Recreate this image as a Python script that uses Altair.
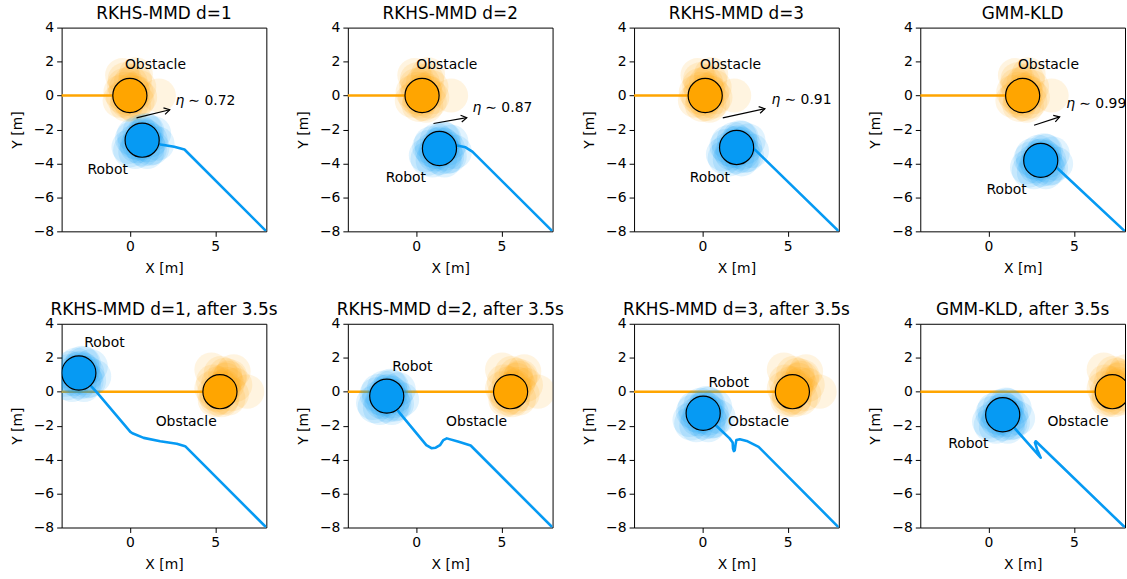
import math
import altair as alt
import pandas as pd

# ---- panel titles and axes -------------------------------------------------
TITLES = [
    "RKHS-MMD d=1", "RKHS-MMD d=2", "RKHS-MMD d=3", "GMM-KLD",
    "RKHS-MMD d=1, after 3.5s", "RKHS-MMD d=2, after 3.5s",
    "RKHS-MMD d=3, after 3.5s", "GMM-KLD, after 3.5s",
]
X_DOMAIN = [-4, 8]
Y_DOMAIN = [-8, 4]
X_TICKS = [0, 5]
Y_TICKS = [-8, -6, -4, -2, 0, 2, 4]

# ---- agent positions (metres) ---------------------------------------------
OBSTACLE_X = [0.0, 0.35, 0.17, 2.0, 5.28, 5.54, 5.28, 7.25]
OBSTACLE_Y = [0.0, 0.0, 0.0, 0.0, 0.0, 0.0, 0.0, 0.0]
ROBOT_X = [0.72, 1.37, 2.01, 3.06, -2.99, -1.72, 0.05, 0.83]
ROBOT_Y = [-2.63, -3.12, -3.06, -3.82, 1.10, -0.26, -1.27, -1.36]
BODY_RADIUS = 1.0

# obstacle travels along y = 0 from the left
OBSTACLE_TRACK_START_X = -4.5

# ---- robot trajectories -----------------------------------------------------
ROBOT_PATH_X = [
    [8.0, 3.2, 2.6, 1.8, 0.72],
    [8.0, 3.3, 2.9, 2.4, 1.37],
    [8.0, 3.1, 2.01],
    [8.0, 3.9, 3.06],
    [8.0, 3.24, 2.75, 1.78, 0.81, 0.15, 0.03, -1.92, -2.99],
    [8.0, 3.2, 2.5, 1.8, 1.6, 1.4, 1.15, 0.9, 0.6, -1.0, -1.72],
    [8.0, 3.3, 2.6, 2.2, 2.0, 1.95, 1.9, 1.85, 1.8, 1.78, 1.6, 0.96, 0.05],
    [8.0, 2.77, 2.72, 2.85, 3.06, 0.83],
]
ROBOT_PATH_Y = [
    [-8.0, -3.18, -3.02, -2.88, -2.63],
    [-8.0, -3.3, -3.05, -2.95, -3.12],
    [-8.0, -3.2, -3.06],
    [-8.0, -4.15, -3.82],
    [-8.0, -3.21, -3.07, -2.92, -2.72, -2.45, -2.37, -0.06, 1.10],
    [-8.0, -3.17, -2.95, -2.75, -2.85, -3.15, -3.3, -3.33, -3.15, -1.2, -0.26],
    [-8.0, -3.25, -2.9, -2.8, -2.85, -3.1, -3.45, -3.5, -3.35, -3.0, -2.75, -2.14, -1.27],
    [-8.0, -2.92, -3.0, -3.4, -3.89, -1.36],
]

# ---- sampled uncertainty (offsets from the mean position) -------------------
OBSTACLE_SAMPLE_DX_TOP = [-0.45, 0.35, 0.55, -0.55, 0.1, -0.2, 0.45, 1.7, -0.35, 0.2, 0.0, -0.1,
                          0.3, -0.4, 0.15, -0.25, 0.6, -0.6, 0.25, 0.05, -0.15, 0.4, -0.3, 0.1]
OBSTACLE_SAMPLE_DY_TOP = [1.2, 1.25, 0.5, 0.2, -0.5, -0.55, -0.35, 0.0, 0.6, 0.2, 0.05, -0.2,
                          0.9, -0.1, 0.35, 0.4, -0.1, -0.3, -0.6, 0.75, -0.35, 0.15, 0.95, -0.05]
OBSTACLE_SAMPLE_DX_BOTTOM = [-0.5, 0.8, 0.9, -0.5, 0.1, -0.3, 0.5, 1.6, 0.35, 0.2, 0.0, -0.2,
                             0.6, -0.35, 0.3, -0.1, 0.7, 0.45, -0.4, 0.15, 0.55, -0.2, 0.25, 0.05]
OBSTACLE_SAMPLE_DY_BOTTOM = [1.3, 1.2, 0.4, 0.2, -0.5, -0.5, -0.4, 0.0, 0.7, 0.2, 0.05, -0.2,
                             0.9, -0.1, 1.0, 0.5, -0.15, 0.45, 0.6, -0.35, 0.8, -0.4, 0.3, 1.1]
ROBOT_SAMPLE_DX = [-0.8, -0.5, 0.2, 0.7, 0.9, 0.3, -0.4, 0.0, 0.5, -0.2, -0.6, 0.6,
                   0.1, -0.3, 0.35, -0.15, 0.05, -0.45, 0.25, 0.45, -0.7, 0.15, -0.05, 0.3]
ROBOT_SAMPLE_DY = [-0.4, 0.3, 0.6, 0.4, -0.2, -0.7, -0.7, 0.1, 0.0, -0.2, 0.1, -0.45,
                   0.3, -0.35, -0.3, 0.5, -0.55, -0.1, 0.2, -0.5, -0.6, 0.05, 0.25, 0.55]

# ---- annotations ------------------------------------------------------------
OBSTACLE_LABEL_X = [1.5, 1.8, 1.66, 3.51, 3.3, 3.55, 3.3, 5.24]
OBSTACLE_LABEL_Y = [1.8, 1.8, 1.8, 1.8, -1.79, -1.79, -1.79, -1.79]
ROBOT_LABEL_X = [-1.3, -0.6, 0.44, 1.06, -1.49, -0.22, 1.55, -1.18]
ROBOT_LABEL_Y = [-4.38, -4.83, -4.83, -5.55, 2.87, 1.47, 0.52, -3.11]

ETA_VALUES = ["0.72", "0.87", "0.91", "0.99"]
ETA_X = [2.67, 3.3, 4.06, 4.56]
ETA_Y = [-0.33, -0.74, -0.29, -0.52]
ARROW_X0 = [0.39, 1.02, 1.2, 2.67]
ARROW_Y0 = [-1.32, -1.65, -1.32, -1.75]
ARROW_X1 = [2.34, 2.97, 3.67, 4.17]
ARROW_Y1 = [-0.84, -1.3, -0.78, -1.26]

# ---- styling ----------------------------------------------------------------
ORANGE = "#FFA500"
BLUE = "#069AF3"
FONT = "DejaVu Sans"
PLOT_W = 206
PLOT_H = 205
PX_PER_M_X = PLOT_W / (X_DOMAIN[1] - X_DOMAIN[0])
PX_PER_M_Y = PLOT_H / (Y_DOMAIN[1] - Y_DOMAIN[0])
BODY_SIZE = (2 * BODY_RADIUS * PX_PER_M_X) ** 2
CLOUD_OPACITY = 0.12
ARROW_HEAD = "M -1 -0.6 L 0 0 L -1 0.6"


def make_panel(i):
    row = i // 4
    xs = alt.Scale(domain=X_DOMAIN, nice=False, zero=False)
    ys = alt.Scale(domain=Y_DOMAIN, nice=False, zero=False)
    x = alt.X("x:Q", scale=xs, axis=alt.Axis(values=X_TICKS, title="X [m]"))
    y = alt.Y("y:Q", scale=ys, axis=alt.Axis(values=Y_TICKS, title="Y [m]"))

    track = pd.DataFrame({"x": [OBSTACLE_TRACK_START_X, OBSTACLE_X[i]],
                          "y": [OBSTACLE_Y[i], OBSTACLE_Y[i]]})
    path = pd.DataFrame({"x": ROBOT_PATH_X[i], "y": ROBOT_PATH_Y[i],
                         "k": list(range(len(ROBOT_PATH_X[i])))})

    if row == 0:
        odx, ody = OBSTACLE_SAMPLE_DX_TOP, OBSTACLE_SAMPLE_DY_TOP
    else:
        odx, ody = OBSTACLE_SAMPLE_DX_BOTTOM, OBSTACLE_SAMPLE_DY_BOTTOM
    obs_cloud = pd.DataFrame({"x": [OBSTACLE_X[i] + d for d in odx],
                              "y": [OBSTACLE_Y[i] + d for d in ody]})
    rob_cloud = pd.DataFrame({"x": [ROBOT_X[i] + d for d in ROBOT_SAMPLE_DX],
                              "y": [ROBOT_Y[i] + d for d in ROBOT_SAMPLE_DY]})
    bodies = pd.DataFrame({"x": [OBSTACLE_X[i], ROBOT_X[i]],
                           "y": [OBSTACLE_Y[i], ROBOT_Y[i]],
                           "who": ["obstacle", "robot"]})
    labels = pd.DataFrame({"x": [OBSTACLE_LABEL_X[i], ROBOT_LABEL_X[i]],
                           "y": [OBSTACLE_LABEL_Y[i], ROBOT_LABEL_Y[i]],
                           "t": ["Obstacle", "Robot"]})

    layers = [
        alt.Chart(track).mark_line(color=ORANGE, strokeWidth=2.6, clip=True)
        .encode(x=x, y=y),
        alt.Chart(path).mark_line(color=BLUE, strokeWidth=2.6, clip=True,
                                  strokeJoin="round")
        .encode(x=x, y=y, order="k:Q"),
        alt.Chart(obs_cloud).mark_point(shape="circle", filled=True, color=ORANGE,
                                        opacity=CLOUD_OPACITY, size=BODY_SIZE,
                                        strokeWidth=0, clip=True)
        .encode(x=x, y=y),
        alt.Chart(rob_cloud).mark_point(shape="circle", filled=True, color=BLUE,
                                        opacity=CLOUD_OPACITY, size=BODY_SIZE,
                                        strokeWidth=0, clip=True)
        .encode(x=x, y=y),
        alt.Chart(bodies).mark_point(shape="circle", filled=True, opacity=1,
                                     size=BODY_SIZE, stroke="black",
                                     strokeWidth=1.2, clip=True)
        .encode(x=x, y=y,
                fill=alt.Fill("who:N", scale=alt.Scale(domain=["obstacle", "robot"],
                                                       range=[ORANGE, BLUE]),
                              legend=None)),
        alt.Chart(labels).mark_text(font=FONT, fontSize=14, color="black",
                                    align="center", baseline="middle")
        .encode(x=x, y=y, text="t:N"),
    ]

    if row == 0:
        ax0, ay0, ax1, ay1 = ARROW_X0[i], ARROW_Y0[i], ARROW_X1[i], ARROW_Y1[i]
        ang = math.degrees(math.atan2(-(ay1 - ay0) * PX_PER_M_Y,
                                      (ax1 - ax0) * PX_PER_M_X)) % 360
        arrow = pd.DataFrame({"x": [ax0], "y": [ay0], "x2": [ax1], "y2": [ay1]})
        head = pd.DataFrame({"x": [ax1], "y": [ay1], "a": [ang]})
        eta = pd.DataFrame({"x": [ETA_X[i]], "y": [ETA_Y[i]],
                            "t": ["\u223c " + ETA_VALUES[i]]})
        layers += [
            alt.Chart(arrow).mark_rule(color="black", strokeWidth=1.2)
            .encode(x=x, y=y, x2="x2:Q", y2="y2:Q"),
            alt.Chart(head).mark_point(shape=ARROW_HEAD, filled=False, stroke="black",
                                       strokeWidth=1.2, size=130, opacity=1)
            .encode(x=x, y=y, angle=alt.Angle("a:Q", scale=None)),
            alt.Chart(eta).mark_text(font=FONT, fontSize=14, fontStyle="italic",
                                     color="black", align="left", baseline="middle")
            .encode(x=x, y=y, text=alt.value("\u03b7")),
            alt.Chart(eta).mark_text(font=FONT, fontSize=14, color="black",
                                     align="left", baseline="middle", dx=13)
            .encode(x=x, y=y, text="t:N"),
        ]

    return alt.layer(*layers).properties(
        width=PLOT_W, height=PLOT_H,
        title=alt.TitleParams(TITLES[i], anchor="middle"),
    )


chart = (
    alt.concat(*[make_panel(i) for i in range(8)], columns=4,
               spacing={"row": 93, "column": 82}, bounds="flush")
    .configure_view(stroke="black", strokeWidth=1)
    .configure_axis(
        domain=False, grid=False, ticks=True, tickSize=5, tickWidth=1,
        tickColor="black", labelFont=FONT, labelFontSize=14, labelColor="black",
        labelPadding=3, titleFont=FONT, titleFontSize=14, titleColor="black",
        titleFontWeight="normal",
    )
    .configure_axisX(titlePadding=8)
    .configure_axisY(titlePadding=9)
    .configure_title(font=FONT, fontSize=17, fontWeight="normal", color="black",
                     offset=-2)
    .properties(background="white",
                padding={"left": 9, "top": 2, "right": 0, "bottom": 0})
)

chart.save("out.html", embed_options={"renderer": "svg", "actions": False})
